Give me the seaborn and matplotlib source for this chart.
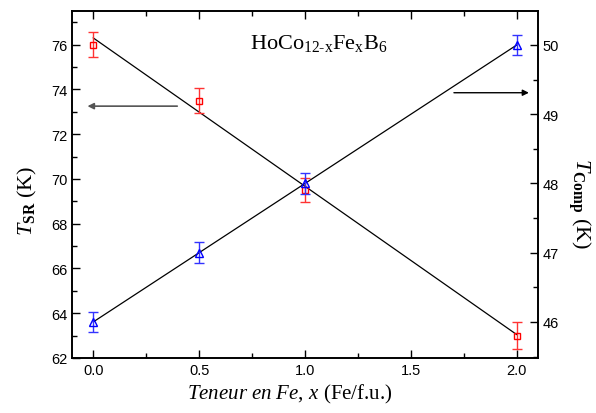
import numpy as np
import seaborn as sns
import matplotlib.pyplot as plt
from matplotlib.ticker import MultipleLocator, FormatStrFormatter

# composition x (Fe/f.u.)
x_fe = [0.0, 0.5, 1.0, 2.0]

# spin reorientation temperature (left axis)
t_sr = [76.0, 73.5, 69.5, 63.0]
t_sr_err = [0.55, 0.55, 0.55, 0.6]

# compensation temperature (right axis)
t_comp = [46.0, 47.0, 48.0, 50.0]
t_comp_err = [0.15, 0.15, 0.15, 0.15]

sns.set_style('ticks')
plt.rcParams['font.family'] = ['Liberation Sans', 'DejaVu Sans']
plt.rcParams['mathtext.fontset'] = 'custom'
plt.rcParams['mathtext.rm'] = 'Liberation Serif'
plt.rcParams['mathtext.it'] = 'Liberation Serif:italic'
plt.rcParams['mathtext.bf'] = 'Liberation Serif:bold'
for k in ['axes.edgecolor', 'xtick.color', 'ytick.color', 'axes.labelcolor', 'text.color']:
    plt.rcParams[k] = 'black'

fig, ax = plt.subplots(figsize=(5.96, 4.14), dpi=100)
fig.subplots_adjust(left=72 / 596, right=538 / 596, bottom=1 - 359 / 414, top=1 - 12 / 414)
ax2 = ax.twinx()

# linear fits
sns.regplot(x=x_fe, y=t_sr, ax=ax, ci=None, scatter=False,
            line_kws={'color': 'black', 'linewidth': 0.9})
sns.regplot(x=x_fe, y=t_comp, ax=ax2, ci=None, scatter=False,
            line_kws={'color': 'black', 'linewidth': 0.9})

ax.errorbar(x_fe, t_sr, yerr=t_sr_err, fmt='s', ms=5, mfc='none', mec='#ff0000',
            mew=1, ecolor='#ff3333', elinewidth=1, capsize=3.5, capthick=1)
ax2.errorbar(x_fe, t_comp, yerr=t_comp_err, fmt='^', ms=6, mfc='none', mec='#0000ff',
             mew=1, ecolor='#3333ff', elinewidth=1, capsize=3.5, capthick=1)

ax.set_xlim(-0.1, 2.1)
ax.set_ylim(62, 77.5)
ax2.set_ylim(45.48, 50.49)

ax.xaxis.set_major_locator(MultipleLocator(0.5))
ax.xaxis.set_minor_locator(MultipleLocator(0.25))
ax.xaxis.set_major_formatter(FormatStrFormatter('%.1f'))
ax.yaxis.set_major_locator(MultipleLocator(2))
ax.yaxis.set_minor_locator(MultipleLocator(1))
ax2.yaxis.set_major_locator(MultipleLocator(1))
ax2.yaxis.set_minor_locator(MultipleLocator(0.5))

ax.tick_params(which='both', direction='in', top=True, right=False, labelsize=10.5,
               width=1, color='black', labelcolor='black')
ax.tick_params(which='major', length=6)
ax.tick_params(which='minor', length=3.5)
ax2.tick_params(which='both', direction='in', labelsize=10.5, width=1,
                color='black', labelcolor='black')
ax2.tick_params(which='major', length=6)
ax2.tick_params(which='minor', length=3.5)

for a in (ax, ax2):
    for s in a.spines.values():
        s.set_linewidth(1.2)
        s.set_color('black')
        s.set_visible(True)

ax.set_xlabel(r'$Teneur\ en\ Fe,\,x$ (Fe/f.u.)', fontsize=15, family='Liberation Serif')
ax.set_ylabel(r'$T_{\mathbf{SR}}$ (K)', fontsize=16, family='Liberation Serif')
ax2.set_ylabel(r'$T_{\mathbf{Comp}}$ (K)', fontsize=16, family='Liberation Serif', rotation=270)
ax.xaxis.set_label_coords(0.468, -0.068)
ax.yaxis.set_label_coords(-0.071, 0.455)
ax2.yaxis.set_label_coords(1.118, 0.447)

ax.text(0.738, 76.1, 'HoCo$_{\\mathrm{12\u2010x}}$Fe$_{\\mathrm{x}}$B$_{6}$', fontsize=16,
        family='Liberation Serif', va='center', ha='left')

# arrows pointing to the relevant axes
ax.annotate('', xy=(-0.04, 73.25), xytext=(0.41, 73.25),
            arrowprops=dict(arrowstyle='-|>', color='#555555', lw=1.2, mutation_scale=9))
ax2.annotate('', xy=(2.07, 49.31), xytext=(1.69, 49.31),
             arrowprops=dict(arrowstyle='-|>', color='black', lw=1, mutation_scale=9))

fig.savefig('out.png', dpi=100)
